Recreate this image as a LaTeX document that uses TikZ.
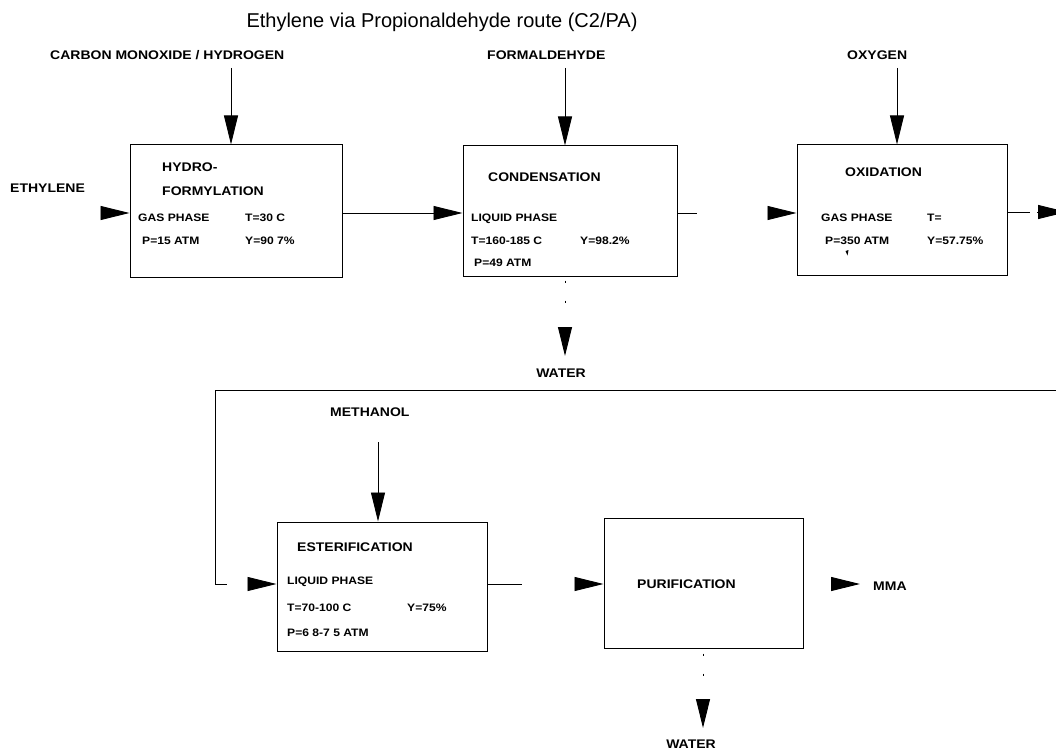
\documentclass[tikz,border=0pt]{standalone}
\usepackage{fontspec}
\setmainfont{Liberation Sans}
\newfontfamily\tagfont[FakeStretch=1.12]{Liberation Sans Bold}
\usetikzlibrary{arrows.meta}
\begin{document}
\begin{tikzpicture}[x=1pt,y=-1pt,
  unit/.style={draw, line width=1pt, inner sep=0pt},
  big/.style={inner sep=0pt, anchor=base west, font=\tagfont\fontsize{12.5}{14}\selectfont},
  small/.style={inner sep=0pt, anchor=base west, font=\tagfont\fontsize{10.8}{12}\selectfont},
  bigc/.style={big, anchor=base},
  flow/.style={line width=0.9pt},
  tip/.style={line width=0.9pt, -{Triangle[length=29pt,width=14pt]}},
  drainA/.style={line width=1pt, dash pattern=on 0pt off 4pt on 2pt off 18pt on 2pt off 80pt, -{Triangle[length=29pt,width=14pt]}},
  drainB/.style={line width=1pt, dash pattern=on 0pt off 5pt on 2pt off 18pt on 2pt off 80pt, -{Triangle[length=29pt,width=14pt]}}
]
\clip (0,0) rectangle (1056,754);
\fill[white] (0,0) rectangle (1056,754);

% title
\node[inner sep=0pt, anchor=base, font=\fontsize{20}{24}\selectfont] (title) at (442,28) {Ethylene via Propionaldehyde route (C2/PA)};

% process units
\node[unit, minimum width=212pt, minimum height=132pt] (hf) at (236,211) {};
\node[unit, minimum width=214pt, minimum height=130pt] (cd) at (570,211) {};
\node[unit, minimum width=210pt, minimum height=130pt] (ox) at (902,210) {};
\node[unit, minimum width=210pt, minimum height=129pt] (es) at (382,586.5) {};
\node[unit, minimum width=199pt, minimum height=130pt] (pu) at (703.5,583) {};

% feed labels
\node[big] (lco) at (50,59.5) {CARBON MONOXIDE / HYDROGEN};
\node[big] (lfa) at (487,59.5) {FORMALDEHYDE};
\node[big] (lox) at (847,59.5) {OXYGEN};
\node[big] (let) at (10,192.5) {ETHYLENE};
\node[big] (lme) at (330,416.5) {METHANOL};
\node[bigc] (lw1) at (561,377.5) {WATER};
\node[bigc] (lw2) at (691,748.5) {WATER};
\node[big] (lmma) at (873,590) {MMA};

% hydroformylation text
\node[big] (hf1) at (162,171.5) {HYDRO-};
\node[big] (hf2) at (162,195.5) {FORMYLATION};
\node[small] (hf3) at (138,221) {GAS PHASE};
\node[small] (hf4) at (245,221) {T=30 C};
\node[small] (hf5) at (142,244) {P=15 ATM};
\node[small] (hf6) at (245,244) {Y=90 7\%};

% condensation text
\node[big] (cd1) at (488,181.5) {CONDENSATION};
\node[small] (cd2) at (471,221) {LIQUID PHASE};
\node[small] (cd3) at (471,244) {T=160-185 C};
\node[small] (cd4) at (580,244) {Y=98.2\%};
\node[small] (cd5) at (474,266) {P=49 ATM};

% oxidation text
\node[big] (ox1) at (845,176.5) {OXIDATION};
\node[small] (ox2) at (821,221) {GAS PHASE};
\node[small] (ox3) at (927,221) {T=};
\node[small] (ox4) at (825,244) {P=350 ATM};
\node[small] (ox5) at (927,244) {Y=57.75\%};
\fill (845.5,251) -- (848.5,250) -- (847.5,255.5) -- cycle;

% esterification text
\node[big] (es1) at (297,551.5) {ESTERIFICATION};
\node[small] (es2) at (287,584) {LIQUID PHASE};
\node[small] (es3) at (287,611) {T=70-100 C};
\node[small] (es4) at (407,611) {Y=75\%};
\node[small] (es5) at (287,636) {P=6 8-7 5 ATM};

% purification text
\node[big] (pu1) at (637,588.5) {PURIFICATION};

% stream rows
\coordinate (row1) at (0,213);
\coordinate (row2) at (0,584);

% feeds from above
\coordinate (coS) at (231,68);
\coordinate (faS) at (565,68);
\coordinate (oxS) at (897,68);
\coordinate (meS) at (378,442);
\draw[tip] (coS) -- (coS |- hf.north);
\draw[tip] (faS) -- (faS |- cd.north);
\draw[tip] (oxS) -- (oxS |- ox.north);
\draw[tip] (meS) -- (meS |- es.north);

% ethylene feed
\coordinate (etS) at (101,213);
\draw[tip] (etS) -- (etS -| hf.west);

% main line
\draw[tip] (hf.east |- row1) -- (cd.west |- row1);
\coordinate (cdOut) at (697,213);
\coordinate (oxIn) at (768,213);
\draw[flow] (cd.east |- row1) -- (cdOut);
\draw[tip] (oxIn) -- (ox.west |- row1);
\coordinate (oxOut) at (1030,212);
\coordinate (oxTip) at (1037,212);
\draw[flow] (ox.east |- oxOut) -- (oxOut);
\draw[tip] (oxTip) -- ++(30,0);

% recycle to esterification
\coordinate (recR) at (1060,390);
\coordinate (recL) at (215,390);
\coordinate (recE) at (227,584);
\coordinate (esIn) at (248,584);
\draw[flow] (recR) -- (recL) -- (recL |- recE) -- (recE);
\draw[tip] (esIn) -- (es.west |- row2);

% esterification to purification
\coordinate (esOut) at (522,584);
\coordinate (puIn) at (576,584);
\draw[flow] (es.east |- row2) -- (esOut);
\draw[tip] (puIn) -- (pu.west |- row2);

% product
\coordinate (mmaS) at (831,584);
\draw[tip] (mmaS) -- ++(29,0);

% water draws
\coordinate (w1) at (565,356);
\coordinate (w2) at (703,728);
\draw[drainA] (cd.south -| w1) -- (w1);
\draw[drainB] (pu.south -| w2) -- (w2);
\end{tikzpicture}
\end{document}
